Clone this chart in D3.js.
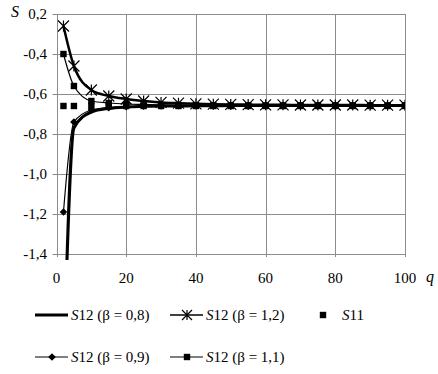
<!DOCTYPE html>
<html>
<head>
<meta charset="utf-8">
<script src="https://cdn.jsdelivr.net/npm/d3@7"></script>
<style>
  body { margin: 0; background: #fff; }
</style>
</head>
<body>
<script>
var width = 438,
  height = 374;

// data
var q = [2, 5, 10, 15, 20, 25, 30, 35, 40, 45, 50, 55, 60, 65, 70, 75, 80, 85, 90, 95, 100];
var s12b08 = [-2.0, -0.77, -0.69, -0.672, -0.665, -0.662, -0.66, -0.66, -0.659, -0.659, -0.658, -0.658, -0.658, -0.658, -0.658, -0.658, -0.658, -0.658, -0.658, -0.658, -0.658];
var s12b09 = [-1.19, -0.74, -0.68, -0.668, -0.663, -0.661, -0.66, -0.659, -0.659, -0.658, -0.658, -0.658, -0.658, -0.658, -0.658, -0.658, -0.658, -0.658, -0.658, -0.658, -0.658];
var s12b11 = [-0.40, -0.56, -0.635, -0.645, -0.65, -0.652, -0.654, -0.655, -0.656, -0.656, -0.657, -0.657, -0.657, -0.657, -0.657, -0.657, -0.657, -0.657, -0.657, -0.657, -0.657];
var s12b12 = [-0.26, -0.46, -0.58, -0.61, -0.625, -0.635, -0.642, -0.646, -0.649, -0.651, -0.652, -0.653, -0.654, -0.654, -0.655, -0.655, -0.655, -0.655, -0.656, -0.656, -0.656];
var s11 = [-0.66, -0.66, -0.66, -0.66, -0.66, -0.66, -0.66, -0.66, -0.66, -0.66, -0.66, -0.66, -0.66, -0.66, -0.66, -0.66, -0.66, -0.66, -0.66, -0.66, -0.66];

var xTicks = [0, 20, 40, 60, 80, 100];
var yTicks = [-0.2, -0.4, -0.6, -0.8, -1.0, -1.2, -1.4];
var yTickLabels = ["0,2", "-0,4", "-0,6", "-0,8", "-1,0", "-1,2", "-1,4"];

var serif = "Liberation Serif";

var x = d3.scaleLinear().domain([0, 100]).range([56.5, 405]);
var y = d3.scaleLinear().domain([-0.2, -1.4]).range([14, 254]);

var svg = d3.select("body").append("svg")
  .attr("width", width)
  .attr("height", height);

svg.append("defs").append("clipPath")
  .attr("id", "plotclip")
  .append("rect")
  .attr("x", x(0))
  .attr("y", y(-0.2))
  .attr("width", x(100) - x(0))
  .attr("height", y(-1.4) - y(-0.2) + 6);

// grid
var grid = svg.append("g").attr("stroke", "#8c8c8c").attr("stroke-width", 1);
grid.selectAll(".h").data(yTicks).enter().append("line")
  .attr("x1", x(0) - 4).attr("x2", x(100))
  .attr("y1", function (d) { return Math.round(y(d)) + 0.5; })
  .attr("y2", function (d) { return Math.round(y(d)) + 0.5; });
grid.selectAll(".v").data(xTicks).enter().append("line")
  .attr("y1", y(-0.2)).attr("y2", y(-1.4) + 3)
  .attr("x1", function (d) { return Math.round(x(d)) + 0.5; })
  .attr("x2", function (d) { return Math.round(x(d)) + 0.5; });

// tick labels
svg.append("g").selectAll("text").data(yTicks).enter().append("text")
  .attr("x", 47)
  .attr("y", function (d) { return y(d) + 5; })
  .attr("text-anchor", "end")
  .style("font-family", serif)
  .style("font-size", "15px")
  .text(function (d, i) { return yTickLabels[i]; });

svg.append("g").selectAll("text").data(xTicks).enter().append("text")
  .attr("x", function (d) { return x(d); })
  .attr("y", 283)
  .attr("text-anchor", "middle")
  .style("font-family", serif)
  .style("font-size", "15px")
  .text(function (d) { return d; });

svg.append("text").attr("x", 11).attr("y", 17)
  .style("font-family", serif)
  .style("font-size", "16px").style("font-style", "italic").text("S");
svg.append("text").attr("x", 426).attr("y", 282)
  .style("font-family", serif)
  .style("font-size", "16px").style("font-style", "italic").text("q");

// marker shapes
function star(g, s) {
  g.append("path")
    .attr("d", "M" + (-s) + "," + (-s) + "L" + s + "," + s + "M" + (-s) + "," + s + "L" + s + "," + (-s) + "M0," + (-s) + "L0," + s)
    .attr("stroke", "#000").attr("stroke-width", 1.2).attr("fill", "none");
}
function square(g, s) {
  g.append("rect").attr("x", -s).attr("y", -s).attr("width", 2 * s).attr("height", 2 * s).attr("fill", "#000");
}
function diamond(g, s) {
  g.append("path").attr("d", "M0," + (-s) + "L" + s + ",0L0," + s + "L" + (-s) + ",0Z").attr("fill", "#000");
}

var series = [
  { name: "0,8", values: s12b08, line: 3, marker: null },
  { name: "0,9", values: s12b09, line: 1.2, marker: diamond, ms: 3.8 },
  { name: "1,1", values: s12b11, line: 1.2, marker: square, ms: 3.2 },
  { name: "1,2", values: s12b12, line: 2.5, marker: star, ms: 5.5 },
  { name: "S11", values: s11, line: 0, marker: square, ms: 3.2 }
];

var line = d3.line()
  .x(function (d) { return x(d[0]); })
  .y(function (d) { return y(d[1]); })
  .curve(d3.curveMonotoneX);

var plot = svg.append("g").attr("clip-path", "url(#plotclip)");

series.forEach(function (s) {
  var pts = q.map(function (d, i) { return [d, s.values[i]]; });
  if (s.line > 0) {
    plot.append("path")
      .datum(pts)
      .attr("fill", "none")
      .attr("stroke", "#000")
      .attr("stroke-width", s.line)
      .attr("d", line);
  }
  if (s.marker) {
    pts.forEach(function (p) {
      if (p[1] < -1.45) return;
      var g = plot.append("g").attr("transform", "translate(" + x(p[0]) + "," + y(p[1]) + ")");
      s.marker(g, s.ms);
    });
  }
});

// legend
var legendItems = [
  { label: "12 (β = 0,8)", lx: 35, ly: 315, line: 3, marker: null },
  { label: "12 (β = 1,2)", lx: 170, ly: 315, line: 1.5, marker: star, ms: 5 },
  { label: "11", lx: 306, ly: 315, line: 0, marker: square, ms: 3.2 },
  { label: "12 (β = 0,9)", lx: 35, ly: 357, line: 1.2, marker: diamond, ms: 3.8 },
  { label: "12 (β = 1,1)", lx: 170, ly: 357, line: 1.2, marker: square, ms: 3.2 }
];

var legend = svg.append("g");
legendItems.forEach(function (d) {
  var g = legend.append("g");
  if (d.line > 0) {
    g.append("line").attr("x1", d.lx).attr("x2", d.lx + 33)
      .attr("y1", d.ly).attr("y2", d.ly)
      .attr("stroke", "#000").attr("stroke-width", d.line);
  }
  if (d.marker) {
    d.marker(g.append("g").attr("transform", "translate(" + (d.lx + 17) + "," + d.ly + ")"), d.ms);
  }
  var t = g.append("text").attr("x", d.lx + 36).attr("y", d.ly + 5)
    .style("font-family", serif).style("font-size", "15px");
  t.append("tspan").style("font-style", "italic").text("S");
  t.append("tspan").text(d.label);
});
</script>
</body>
</html>
